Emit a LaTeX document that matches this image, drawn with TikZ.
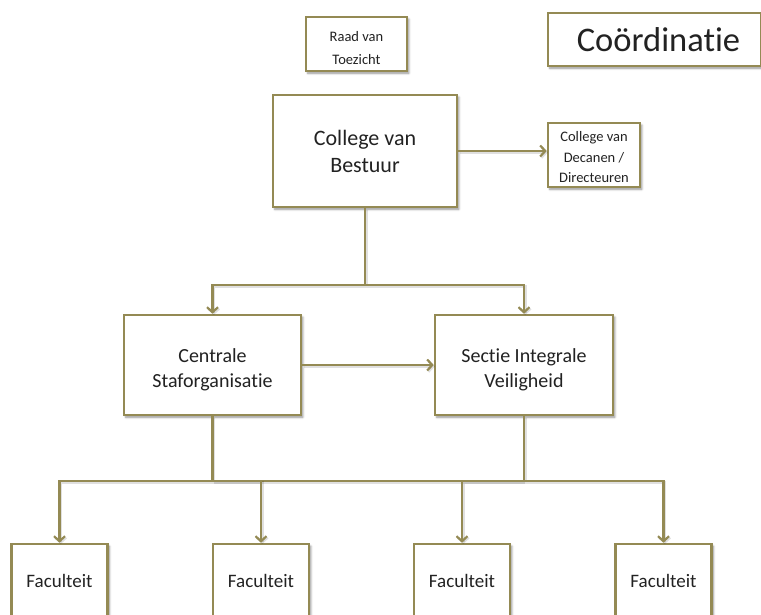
\documentclass[tikz,border=0pt]{standalone}
\usepackage{fontspec}
\setmainfont{Carlito}[RawFeature={-liga;-clig;-dlig;-calt;-rlig}]
\usetikzlibrary{arrows.meta,shadows.blur}

\definecolor{olivetan}{RGB}{148,138,84}
\definecolor{inktext}{RGB}{34,34,34}

\newcommand{\fsz}[2]{\fontsize{#1}{#2}\selectfont}
% strut that pushes a text block down inside its box
\newcommand{\lowerby}[1]{\rule{0pt}{#1}}

\tikzset{
  orgbox/.style={draw=olivetan, line width=2.6pt, fill=white, align=center,
    inner sep=0pt, text=inktext,
    blur shadow={shadow xshift=1.8pt, shadow yshift=-2.2pt,
      shadow blur radius=2.2pt, shadow blur steps=6, shadow opacity=45}},
  link/.style={draw=olivetan, line width=2.6pt,
    preaction={draw=black, opacity=0.12, line width=2.6pt,
      transform canvas={shift={(1.2pt,-1.4pt)}}}},
  arr/.style={link, -{Straight Barb[length=5pt,width=11pt,line width=2.2pt]}},
}

\begin{document}
\begin{tikzpicture}[x=1pt,y=-1pt]
\useasboundingbox (0,0) rectangle (761,615);
\clip (0,0) rectangle (761,615);

% top row
\node[orgbox, minimum width=101pt, minimum height=54pt, font=\fsz{14.5}{23}]
  (raad) at (356.5,44) {\lowerby{19pt}Raad van\\Toezicht};
\node[orgbox, minimum width=213pt, minimum height=53pt, font=\fsz{34.5}{40}]
  (coord) at (654.5,39.5) {\hspace*{8pt}Coördinatie};

% board and its council
\node[orgbox, minimum width=184pt, minimum height=112pt, font=\fsz{22}{27}]
  (cvb) at (365,151) {College van\\Bestuur};
\node[orgbox, minimum width=92pt, minimum height=64pt, font=\fsz{14.5}{20.5}]
  (dec) at (594,155) {\lowerby{15pt}College van\\Decanen /\\Directeuren};

% middle row
\node[orgbox, minimum width=177pt, minimum height=100pt, font=\fsz{20}{25}]
  (cso) at (212.5,365) {\lowerby{23pt}Centrale\\Staforganisatie};
\node[orgbox, minimum width=178pt, minimum height=100pt, font=\fsz{20}{25}]
  (siv) at (524,365) {\lowerby{23pt}Sectie Integrale\\Veiligheid};

% faculties
\foreach \name/\cx in {fac1/59.5, fac2/261, fac3/462, fac4/663.5}
  \node[orgbox, minimum width=96pt, minimum height=73pt, font=\fsz{19}{23}]
    (\name) at (\cx,580.5) {Faculteit};

% junction points
\coordinate (split) at (cvb.south |- 0,285);
\coordinate (busL) at (cso.south |- 0,481);
\coordinate (busR) at (siv.south |- 0,481);

% connectors
\draw[arr] (cvb.east) -- (cvb.east -| dec.west);
\draw[link] (cvb.south) -- (split);
\draw[arr] (split) -| (cso.north);
\draw[arr] (split) -| (siv.north);
\draw[arr] (cso.east) -- (siv.west);
\draw[link] (cso.south) -- (busL);
\draw[link] (siv.south) -- (busR);
\draw[link] (busL) -- (busR);
\draw[arr] (busL) -| (fac1.north);
\draw[arr] (busL) -| (fac2.north);
\draw[arr] (busR) -| (fac3.north);
\draw[arr] (busR) -| (fac4.north);
\end{tikzpicture}
\end{document}
